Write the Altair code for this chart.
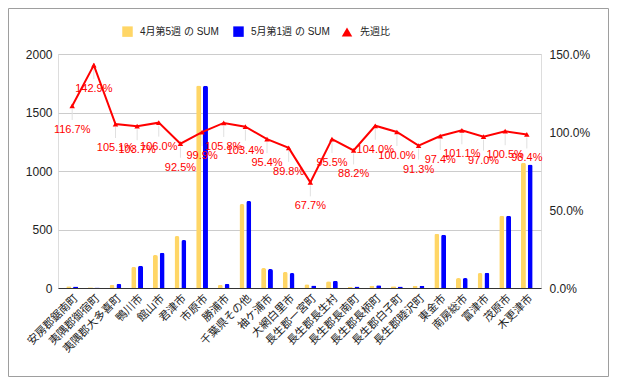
import altair as alt
import pandas as pd

categories = ["安房郡鋸南町", "夷隅郡御宿町", "夷隅郡大多喜町", "鴨川市", "館山市", "君津市",
              "市原市", "勝浦市", "千葉県その他", "袖ケ浦市", "大網白里市", "長生郡一宮町",
              "長生郡長生村", "長生郡長南町", "長生郡長柄町", "長生郡白子町", "長生郡睦沢町",
              "東金市", "南房総市", "富津市", "茂原市", "木更津市"]
apr_w5 = [14, 6, 26, 180, 282, 444, 1730, 26, 718, 171, 137, 31, 58, 9, 20, 14, 20, 464, 85, 128, 618, 1070]
may_w1 = [12, 4, 37, 191, 302, 410, 1728, 37, 744, 162, 128, 21, 62, 12, 23, 12, 20, 456, 85, 131, 618, 1055]
ratio = [1.167, 1.429, 1.051, 1.037, 1.060, 0.925, 0.999, 1.058, 1.034, 0.954, 0.898, 0.677,
         0.955, 0.882, 1.040, 1.000, 0.913, 0.974, 1.011, 0.970, 1.005, 0.984]
series = ["4月第5週 の SUM", "5月第1週 の SUM"]
line_name = "先週比"

bars_df = pd.DataFrame({
    "cat": categories * 2,
    "series": [series[0]] * len(categories) + [series[1]] * len(categories),
    "value": apr_w5 + may_w1,
})
line_df = pd.DataFrame({"cat": categories, "ratio": ratio, "lg": [line_name] * len(categories)})

FONT = "Arial, 'Liberation Sans', 'Noto Sans CJK JP'"

x_axis = alt.Axis(title=None, labelAngle=-45, labelFontSize=11, labelColor="#222",
                  ticks=False, domainColor="#333", domainWidth=1, labelPadding=4,
                  labelFont=FONT)
x_scale = alt.Scale(paddingInner=0, paddingOuter=0.155)
x_enc = alt.X("cat:N", sort=categories, scale=x_scale, axis=x_axis)

bars = alt.Chart(bars_df).mark_bar(size=5, cornerRadiusTopLeft=2, cornerRadiusTopRight=2).encode(
    x=x_enc,
    xOffset=alt.XOffset("series:N", scale=alt.Scale(domain=series, paddingInner=0, paddingOuter=0.592)),
    y=alt.Y("value:Q", scale=alt.Scale(domain=[0, 2000]),
            axis=alt.Axis(title=None, values=[0, 500, 1000, 1500, 2000], format="d", grid=True,
                          gridColor="#cccccc", domain=False, ticks=False, labelPadding=6,
                          labelFontSize=12, labelColor="#222", labelFont=FONT)),
    color=alt.Color("series:N", scale=alt.Scale(domain=series, range=["#ffd666", "#0000ff"]),
                    legend=alt.Legend(orient="none", legendX=64, legendY=-28, direction="horizontal",
                                      title=None, symbolType="square", symbolSize=110,
                                      labelFontSize=10, columnPadding=14, labelOffset=7,
                                      symbolStrokeWidth=0, labelFont=FONT, labelColor="#222")),
)

y_axis = alt.Axis(orient="right", title=None, format=".1%", values=[0, 0.5, 1, 1.5],
                  grid=False, domain=False, ticks=False, labelPadding=8,
                  labelFontSize=12, labelColor="#222", labelFont=FONT)
y_line = alt.Y("ratio:Q", scale=alt.Scale(domain=[0, 1.5]), axis=y_axis)

base = alt.Chart(line_df)
stems = base.mark_rule(color="#e0e0e0", strokeWidth=1, yOffset=3, y2Offset=14).encode(
    x=x_enc, y=y_line, y2="ratio:Q")
line = base.mark_line(color="#ff0000", strokeWidth=2).encode(x=x_enc, y=y_line)
points = base.mark_point(filled=True, color="#ff0000", size=30, opacity=1).encode(
    x=x_enc, y=y_line,
    shape=alt.Shape("lg:N", scale=alt.Scale(domain=[line_name], range=["triangle-up"]),
                    legend=alt.Legend(orient="none", legendX=283, legendY=-28, title=None,
                                      symbolFillColor="#ff0000", symbolStrokeColor="#ff0000",
                                      symbolSize=110, labelFontSize=10, labelOffset=7,
                                      labelFont=FONT, labelColor="#222")))
labels = base.mark_text(color="#ff0000", fontSize=11, dy=24, font=FONT).encode(
    x=x_enc, y=y_line, text=alt.Text("ratio:Q", format=".1%"))

line_layer = alt.layer(stems, line, points, labels)

border = alt.Chart(pd.DataFrame({"b": [0]})).mark_rect(filled=False, stroke="#9e9e9e", strokeWidth=1).encode(
    x=alt.value(-49.5), x2=alt.value(550.5), y=alt.value(-45.5), y2=alt.value(322.5))

chart = alt.layer(border, bars, line_layer).resolve_scale(y="independent").properties(
    width=483, height=234,
    autosize=alt.AutoSizeParams(type="none"),
    padding={"left": 50, "top": 46, "right": 70, "bottom": 89},
).configure_view(stroke=None).configure(font=FONT)

chart.save("out.html", embed_options={"renderer": "svg", "actions": False})
